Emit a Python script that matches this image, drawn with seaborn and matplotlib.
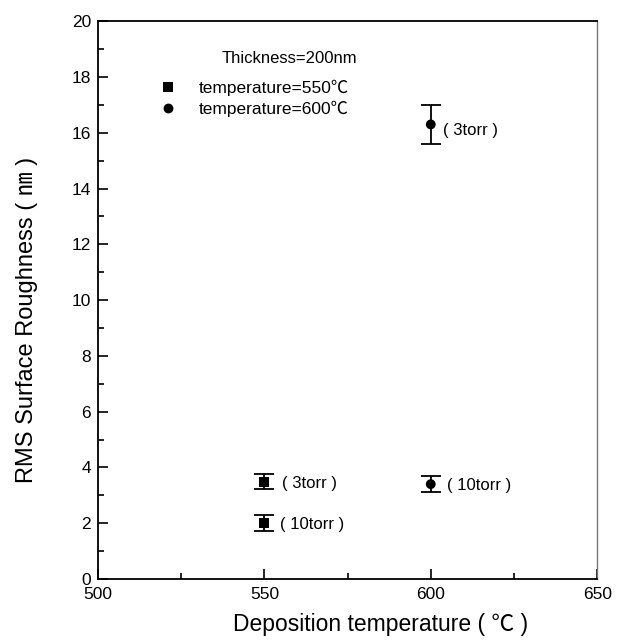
import matplotlib
matplotlib.use("Agg")
import matplotlib.pyplot as plt
import seaborn as sns
import pandas as pd
from matplotlib.ticker import MultipleLocator

# 数据
temps = [550, 550, 600, 600]
roughness = [3.48, 2.0, 16.3, 3.4]
errors = [0.27, 0.29, 0.69, 0.29]
series = ["temperature=550℃", "temperature=550℃", "temperature=600℃", "temperature=600℃"]
pressures = ["( 3torr )", "( 10torr )", "( 3torr )", "( 10torr )"]

sns.set_theme(style="white")
plt.rcParams['font.family'] = ['Liberation Sans', 'Noto Sans CJK SC', 'DejaVu Sans']
plt.rcParams['axes.unicode_minus'] = False
plt.rcParams['text.color'] = 'black'
plt.rcParams['axes.labelcolor'] = 'black'

df = pd.DataFrame({"temp": temps, "rms": roughness, "err": errors,
                   "series": series, "p": pressures})

fig = plt.figure(figsize=(6.24, 6.44), dpi=100)
ax = fig.add_axes([0.157, 0.101, 0.80, 0.866])

ax.errorbar(df["temp"], df["rms"], yerr=df["err"], fmt="none",
            ecolor="black", elinewidth=1.3, capsize=7, capthick=1.3, zorder=2)
sns.scatterplot(data=df, x="temp", y="rms", style="series",
                markers={"temperature=550℃": "s", "temperature=600℃": "o"},
                color="black", s=50, edgecolor="black", linewidth=0, ax=ax, zorder=3)

# 压力标注
dxs = [5.3, 4.6, 3.6, 4.9]
dys = [-0.05, -0.05, -0.2, -0.05]
for (_, row), dx, dy in zip(df.iterrows(), dxs, dys):
    ax.text(row["temp"] + dx, row["rms"] + dy, row["p"], fontsize=12,
            va="center", ha="left", color="black")

ax.set_xlim(500, 650)
ax.set_ylim(0, 20)
ax.xaxis.set_major_locator(MultipleLocator(50))
ax.xaxis.set_minor_locator(MultipleLocator(25))
ax.yaxis.set_major_locator(MultipleLocator(2))
ax.yaxis.set_minor_locator(MultipleLocator(1))
ax.tick_params(which="both", direction="in", bottom=True, left=True,
               top=False, right=False, labelsize=12.5, colors="black", width=1.2)
ax.tick_params(which="major", length=7)
ax.tick_params(which="minor", length=4)
ax.tick_params(axis="x", pad=6)
ax.tick_params(axis="y", pad=5)

for side in ["left", "bottom", "top"]:
    ax.spines[side].set_color("black")
    ax.spines[side].set_linewidth(1.3)
ax.spines["right"].set_color("#777777")
ax.spines["right"].set_linewidth(1.0)

ax.set_xlabel("Deposition temperature ( ℃ )", fontsize=16.5, labelpad=8)
ax.set_ylabel("RMS Surface Roughness ( ㎚ )", fontsize=17)
ax.xaxis.label.set_x(0.567)
ax.yaxis.set_label_coords(-0.12, 0.464)

# 图例
handles, labels = ax.get_legend_handles_labels()
leg = ax.legend(handles, labels, frameon=False, fontsize=12.5, loc="upper left",
                bbox_to_anchor=(0.122, 0.895), handlelength=1.0, handletextpad=1.3,
                labelspacing=0.25, borderaxespad=0, borderpad=0)
for t in leg.get_texts():
    t.set_color("black")
ax.text(537.3, 18.67, "Thickness=200nm", fontsize=12, ha="left", va="center",
        color="black")

fig.savefig("out.png", dpi=100)
